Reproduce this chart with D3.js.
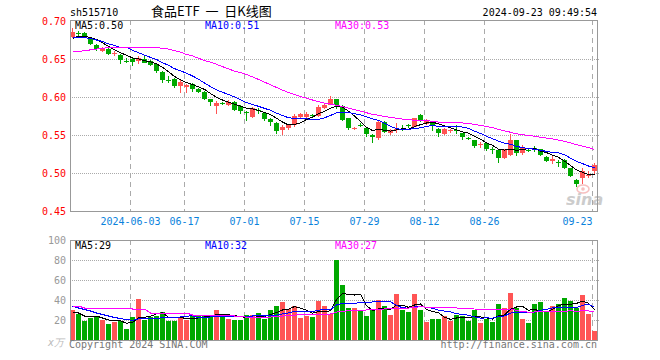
<!DOCTYPE html>
<html>
<head>
<meta charset="utf-8">
<script src="https://cdn.jsdelivr.net/npm/d3@7"></script>
<style>
  body { margin: 0; background: #fff; }
  text { font-family: "DejaVu Sans Mono", monospace; font-size: 10px; }
</style>
</head>
<body>
<svg id="chart"></svg>
<script>
// trading days shown
const dates = [
  "2024-05-20","2024-05-21","2024-05-22","2024-05-23","2024-05-24","2024-05-27","2024-05-28","2024-05-29","2024-05-30","2024-05-31",
  "2024-06-03","2024-06-04","2024-06-05","2024-06-06","2024-06-07","2024-06-11","2024-06-12","2024-06-13","2024-06-14",
  "2024-06-17","2024-06-18","2024-06-19","2024-06-20","2024-06-21","2024-06-24","2024-06-25","2024-06-26","2024-06-27","2024-06-28",
  "2024-07-01","2024-07-02","2024-07-03","2024-07-04","2024-07-05","2024-07-08","2024-07-09","2024-07-10","2024-07-11","2024-07-12",
  "2024-07-15","2024-07-16","2024-07-17","2024-07-18","2024-07-19","2024-07-22","2024-07-23","2024-07-24","2024-07-25","2024-07-26",
  "2024-07-29","2024-07-30","2024-07-31","2024-08-01","2024-08-02","2024-08-05","2024-08-06","2024-08-07","2024-08-08","2024-08-09",
  "2024-08-12","2024-08-13","2024-08-14","2024-08-15","2024-08-16","2024-08-19","2024-08-20","2024-08-21","2024-08-22","2024-08-23",
  "2024-08-26","2024-08-27","2024-08-28","2024-08-29","2024-08-30","2024-09-02","2024-09-03","2024-09-04","2024-09-05","2024-09-06",
  "2024-09-09","2024-09-10","2024-09-11","2024-09-12","2024-09-13","2024-09-18","2024-09-19","2024-09-20","2024-09-23"
];

const open = [
  0.679,0.684,0.684,0.676,0.669,0.661,0.663,0.657,0.655,0.648,
  0.650,0.647,0.650,0.648,0.644,0.633,0.623,0.624,0.614,0.613,
  0.617,0.611,0.607,0.597,0.588,0.592,0.590,0.594,0.588,0.580,
  0.574,0.583,0.579,0.571,0.566,0.556,0.559,0.563,0.574,0.574,
  0.576,0.575,0.585,0.590,0.597,0.588,0.572,0.558,0.563,0.559,
  0.550,0.546,0.567,0.553,0.556,0.558,0.563,0.561,0.576,0.565,
  0.566,0.558,0.551,0.555,0.557,0.552,0.546,0.543,0.537,0.539,
  0.532,0.530,0.520,0.524,0.543,0.526,0.530,0.533,0.531,0.521,
  0.516,0.515,0.517,0.506,0.491,0.493,0.497,0.502
];
const high = [
  0.691,0.687,0.685,0.677,0.670,0.666,0.664,0.661,0.656,0.651,
  0.651,0.654,0.654,0.649,0.645,0.634,0.627,0.625,0.622,0.617,
  0.618,0.612,0.608,0.598,0.595,0.594,0.596,0.595,0.589,0.582,
  0.587,0.585,0.580,0.572,0.567,0.563,0.565,0.578,0.579,0.580,
  0.578,0.590,0.592,0.601,0.598,0.590,0.573,0.561,0.566,0.560,
  0.551,0.570,0.568,0.558,0.566,0.563,0.565,0.573,0.577,0.571,
  0.567,0.559,0.559,0.558,0.563,0.553,0.547,0.544,0.541,0.540,
  0.534,0.531,0.531,0.551,0.544,0.537,0.533,0.535,0.532,0.522,
  0.522,0.517,0.518,0.507,0.492,0.506,0.502,0.513
];
const low = [
  0.677,0.680,0.677,0.668,0.660,0.659,0.655,0.654,0.644,0.645,
  0.641,0.644,0.645,0.641,0.632,0.618,0.619,0.612,0.605,0.605,
  0.607,0.605,0.596,0.588,0.577,0.589,0.588,0.582,0.577,0.569,
  0.573,0.577,0.569,0.562,0.551,0.550,0.557,0.561,0.572,0.572,
  0.572,0.574,0.584,0.589,0.584,0.568,0.557,0.556,0.560,0.548,
  0.539,0.543,0.553,0.550,0.553,0.555,0.559,0.560,0.567,0.563,
  0.555,0.548,0.550,0.552,0.551,0.544,0.543,0.533,0.533,0.529,
  0.525,0.513,0.518,0.523,0.522,0.524,0.527,0.528,0.522,0.514,
  0.512,0.508,0.505,0.495,0.481,0.486,0.493,0.497
];
const close = [
  0.685,0.683,0.678,0.670,0.663,0.664,0.657,0.658,0.649,0.647,
  0.646,0.651,0.645,0.642,0.634,0.623,0.622,0.614,0.620,0.616,
  0.610,0.607,0.597,0.593,0.592,0.591,0.593,0.583,0.581,0.579,
  0.586,0.582,0.571,0.567,0.555,0.560,0.563,0.575,0.577,0.577,
  0.575,0.587,0.590,0.598,0.589,0.570,0.559,0.559,0.562,0.551,
  0.548,0.567,0.554,0.556,0.558,0.557,0.562,0.572,0.569,0.569,
  0.562,0.552,0.558,0.556,0.556,0.548,0.545,0.536,0.538,0.532,
  0.531,0.520,0.530,0.543,0.526,0.534,0.529,0.531,0.524,0.516,
  0.518,0.514,0.506,0.496,0.486,0.503,0.498,0.510
];
// volume, in 万
const volume = [
  30,26,19,22,23,20,16,18,19,11,
  23,41,20,23,24,28,19,19,22,20,
  25,24,24,25,30,26,21,20,20,25,
  25,27,21,30,34,38,31,34,22,24,
  23,39,34,26,80,55,32,32,29,24,
  30,40,34,25,46,30,28,46,30,18,
  21,21,24,19,25,24,19,30,17,21,
  18,36,32,47,32,21,17,36,38,28,
  34,36,42,39,32,45,26,9
];

const ma5Head = [0.677, 0.680, 0.680, 0.678];
const ma10Head = [0.678, 0.678, 0.678, 0.677, 0.675, 0.673, 0.670, 0.668, 0.665];
const ma30Head = [
  0.660,0.660,0.661,0.662,0.663,0.664,0.665,0.665,0.665,0.665,
  0.665,0.665,0.665,0.665,0.665,0.664,0.663,0.661,0.659,0.656,
  0.654,0.651,0.648,0.646,0.643,0.640,0.637,0.634,0.632
];
const volMa5Head = [28, 27, 24, 24];
const volMa10Head = [33.7, 32, 30.5, 29, 27, 25.5, 24, 22.5, 21.5];
const volMa30Head = [
  34,34,32,32,32,32,32,32,32,32,
  31,31,31,27,27,27,27,27,27,27,
  25,25,25,25,25,25,25,24,24
];

const priceTicks = [0.45, 0.50, 0.55, 0.60, 0.65, 0.70];
const volTicks = [20, 40, 60, 80, 100];
const tickDates = ["2024-06-03","2024-06-17","2024-07-01","2024-07-15","2024-07-29","2024-08-12","2024-08-26","2024-09-23"];
const tickLabels = ["2024-06-03","06-17","07-01","07-15","07-29","08-12","08-26","09-23"];
const priceMaLabels = ["MA5:0.50", "MA10:0.51", "MA30:0.53"];
const volMaLabels = ["MA5:29", "MA10:32", "MA30:27"];

const width = 660;
const height = 360;
const left = 70;
const right = 598;
const priceTop = 20;
const priceBottom = 211;
const volTop = 240;
const volBottom = 340;

const upColor = "#ff5454";
const downColor = "#00a800";
const maColors = ["#000000", "#0000ff", "#ff00ff"];
const gridColor = "#aaaaaa";

const svg = d3.select("#chart").attr("width", width).attr("height", height);

const xScale = d3.scaleBand().domain(dates).range([left, left + 6 * dates.length]).padding(0);
const yScale = d3.scaleLinear().domain([0.45, 0.70]).range([priceBottom, 21]);
const vScale = d3.scaleLinear().domain([0, 100]).range([volBottom, volTop]);

const candles = dates.map((d, i) => ({
  date: d, o: open[i], h: high[i], l: low[i], c: close[i], v: volume[i]
}));

const movingAvg = (vals, n, head) =>
  vals.map((v, i) => (i < n - 1 ? head[i] : d3.mean(vals.slice(i - n + 1, i + 1))));

const drawGrid = () => {
  const g = svg.append("g").attr("shape-rendering", "crispEdges");
  // horizontal dotted lines
  priceTicks.slice(1, -1).forEach((t) => {
    const y = Math.round(yScale(t)) + 0.5;
    g.append("line").attr("x1", left).attr("x2", 600).attr("y1", y).attr("y2", y)
      .attr("stroke", gridColor).attr("stroke-dasharray", "1,1");
  });
  volTicks.slice(0, -1).forEach((t) => {
    const y = Math.round(vScale(t)) + 0.5;
    g.append("line").attr("x1", left).attr("x2", 600).attr("y1", y).attr("y2", y)
      .attr("stroke", gridColor).attr("stroke-dasharray", "1,1");
  });
  // vertical dashed lines
  tickDates.forEach((d) => {
    const x = xScale(d) + 0.5;
    [[priceTop, priceBottom], [volTop, volBottom]].forEach(([y1, y2]) => {
      g.append("line").attr("x1", x).attr("x2", x).attr("y1", y1).attr("y2", y2)
        .attr("stroke", gridColor).attr("stroke-dasharray", "5,4");
    });
  });
};

const drawFrames = () => {
  const g = svg.append("g").attr("shape-rendering", "crispEdges")
    .attr("fill", "none").attr("stroke", "#999");
  g.append("rect").attr("x", left + 0.5).attr("y", priceTop + 0.5)
    .attr("width", right - left - 1).attr("height", priceBottom - priceTop);
  g.append("rect").attr("x", left + 0.5).attr("y", volTop + 0.5)
    .attr("width", right - left - 1).attr("height", volBottom - volTop);
};

const drawCandles = () => {
  const g = svg.append("g").attr("shape-rendering", "crispEdges");
  const color = (d) => (d.c >= d.o ? upColor : downColor);

  g.selectAll(".wick").data(candles).enter().append("line")
    .attr("class", "wick")
    .attr("x1", (d) => xScale(d.date) + 2.5)
    .attr("x2", (d) => xScale(d.date) + 2.5)
    .attr("y1", (d) => yScale(d.h))
    .attr("y2", (d) => yScale(d.l))
    .attr("stroke", color);

  g.selectAll(".body").data(candles).enter().append("rect")
    .attr("class", "body")
    .attr("x", (d) => xScale(d.date))
    .attr("y", (d) => yScale(Math.max(d.o, d.c)))
    .attr("width", xScale.bandwidth() - 1)
    .attr("height", (d) => Math.max(1, Math.abs(yScale(d.o) - yScale(d.c))))
    .attr("fill", color);

  g.selectAll(".vol").data(candles).enter().append("rect")
    .attr("class", "vol")
    .attr("x", (d) => xScale(d.date))
    .attr("y", (d) => vScale(d.v))
    .attr("width", xScale.bandwidth() - 1)
    .attr("height", (d) => vScale(0) - vScale(d.v))
    .attr("fill", color);
};

const drawLines = () => {
  const priceMas = [
    movingAvg(close, 5, ma5Head),
    movingAvg(close, 10, ma10Head),
    movingAvg(close, 30, ma30Head)
  ];
  const volMas = [
    movingAvg(volume, 5, volMa5Head),
    movingAvg(volume, 10, volMa10Head),
    movingAvg(volume, 30, volMa30Head)
  ];
  const priceLine = d3.line().x((d, i) => xScale(dates[i]) + 2.5).y((d) => yScale(d));
  const volLine = d3.line().x((d, i) => xScale(dates[i]) + 2.5).y((d) => vScale(d));

  const g = svg.append("g").attr("shape-rendering", "crispEdges");
  priceMas.forEach((vals, k) => {
    g.append("path").attr("d", priceLine(vals)).attr("fill", "none")
      .attr("stroke", maColors[k]).attr("stroke-width", 1);
  });
  volMas.forEach((vals, k) => {
    g.append("path").attr("d", volLine(vals)).attr("fill", "none")
      .attr("stroke", maColors[k]).attr("stroke-width", 1);
  });
};

const drawAxes = () => {
  const yAxis = d3.axisLeft(yScale).tickValues(priceTicks)
    .tickFormat(d3.format(".2f")).tickSize(0).tickPadding(4);
  const ya = svg.append("g").attr("transform", "translate(" + left + ",0)").call(yAxis);
  ya.select(".domain").remove();
  ya.selectAll("text").attr("fill", "#ff0000")
    .style("font-family", "DejaVu Sans Mono").style("font-size", "10px");

  const vAxis = d3.axisLeft(vScale).tickValues(volTicks).tickSize(0).tickPadding(4);
  const va = svg.append("g").attr("transform", "translate(" + left + ",0)").call(vAxis);
  va.select(".domain").remove();
  va.selectAll("text").attr("fill", "#999")
    .style("font-family", "DejaVu Sans Mono").style("font-size", "10px");

  const xAxis = d3.axisBottom(xScale).tickValues(tickDates)
    .tickFormat((d, i) => tickLabels[i]).tickSize(0).tickPadding(7);
  const xa = svg.append("g").attr("transform", "translate(-2.5," + priceBottom + ")").call(xAxis);
  xa.select(".domain").remove();
  xa.selectAll("text").attr("fill", "#0a82dc")
    .style("font-family", "DejaVu Sans Mono").style("font-size", "10px");
  // last label sits left of its line
  xa.selectAll("text").filter((d, i) => i === tickDates.length - 1)
    .attr("text-anchor", "end");
};

const drawTexts = () => {
  svg.append("text").attr("x", left).attr("y", 16).text("sh515710");
  svg.append("text").attr("x", 151).attr("y", 16)
    .style("font-family", "'Noto Sans CJK SC', sans-serif").style("font-size", "13px")
    .style("white-space", "pre")
    .text("食品ETF  一  日K线图");
  svg.append("text").attr("x", 597).attr("y", 16).attr("text-anchor", "end")
    .text("2024-09-23 09:49:54");

  const labelX = [75, 205, 335];
  priceMaLabels.forEach((t, k) => {
    svg.append("text").attr("x", labelX[k]).attr("y", 29).attr("fill", maColors[k]).text(t);
  });
  volMaLabels.forEach((t, k) => {
    svg.append("text").attr("x", labelX[k]).attr("y", 249).attr("fill", maColors[k]).text(t);
  });

  svg.append("text").attr("x", 64).attr("y", 346).attr("text-anchor", "end")
    .attr("fill", "#bbb").style("font-style", "italic").text("x万");
  svg.append("text").attr("x", left - 1).attr("y", 348).attr("fill", "#777")
    .text("Copyright 2024 SINA.COM");
  svg.append("text").attr("x", 597).attr("y", 348).attr("text-anchor", "end")
    .attr("fill", "#777").text("http://finance.sina.com.cn");

  // sina watermark
  const wm = svg.append("g").attr("opacity", 0.5);
  wm.append("ellipse").attr("cx", 583).attr("cy", 189).attr("rx", 6).attr("ry", 4)
    .attr("fill", "none").attr("stroke", "#f08080").attr("stroke-width", 1.5);
  wm.append("circle").attr("cx", 583).attr("cy", 189).attr("r", 1.8).attr("fill", "#f08080");
  wm.append("text").attr("x", 566).attr("y", 205)
    .style("font-family", "DejaVu Sans").style("font-size", "16px")
    .style("font-weight", "bold").style("font-style", "italic")
    .attr("fill", "#9a9a9a").text("sina");
};

drawGrid();
drawCandles();
drawLines();
drawFrames();
drawAxes();
drawTexts();
</script>
</body>
</html>
